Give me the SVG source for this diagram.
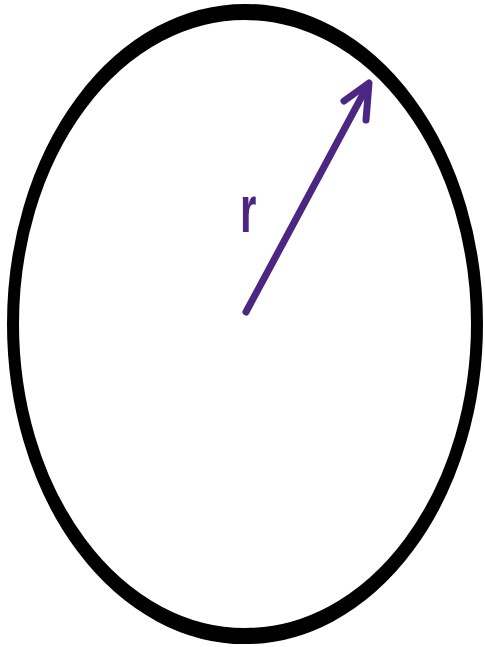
<svg xmlns="http://www.w3.org/2000/svg" width="485" height="647" viewBox="0 0 485 647">
<style>
.ring{fill:none;stroke:#000;stroke-width:12}
.arr{fill:none;stroke:#4b2682;stroke-width:7;stroke-linecap:round;stroke-linejoin:round}
.lbl{font-family:"Liberation Sans",Arial,sans-serif;font-weight:bold;font-size:42px;fill:#4b2682}
</style>
<rect width="485" height="647" fill="#fff"/>
<g id="circle">
<ellipse class="ring" cx="245" cy="324" rx="232" ry="232" transform="translate(245 324) scale(1 1.345) translate(-245 -324)"/>
</g>
<g id="connectors">
<line class="arr" x1="246" y1="312" x2="368" y2="85"/>
<polyline class="arr" points="344,101 369,83 366,120"/>
</g>
<g id="label">
<text class="lbl" transform="translate(240 232) scale(1 1.6)">r</text>
</g>
</svg>
